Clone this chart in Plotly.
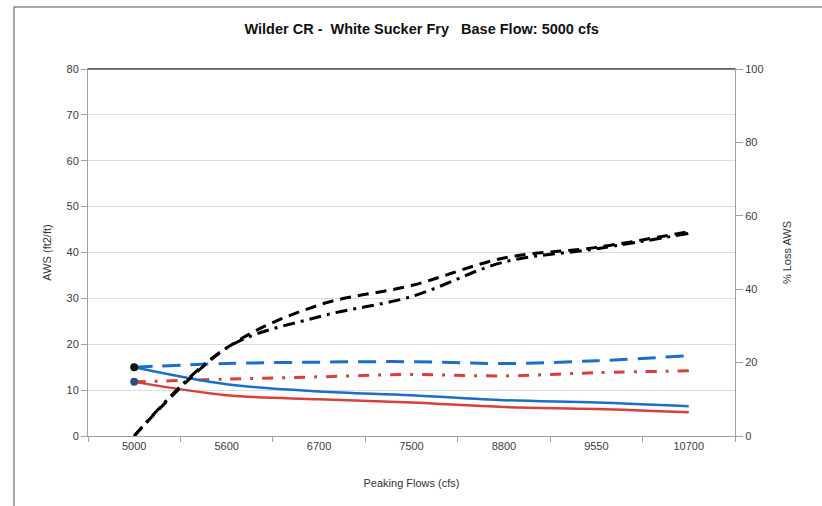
# Wilder CR - White Sucker Fry, base flow 5000 cfs
# AWS (left axis) and % loss of AWS (right axis) against peaking flow

import plotly.graph_objects as go


# peaking flows (category axis)
flows = ['5000', '5600', '6700', '7500', '8800', '9550', '10700']

# AWS (ft2/ft), left axis
aws_blue_solid = [15.0, 11.3, 9.7, 8.9, 7.8, 7.3, 6.5]
aws_red_solid = [11.8, 8.9, 8.0, 7.3, 6.3, 5.9, 5.2]
aws_blue_dash = [15.0, 15.8, 16.1, 16.2, 15.8, 16.4, 17.5]
aws_red_dashdot = [11.8, 12.4, 12.9, 13.4, 13.1, 13.8, 14.2]

# % loss AWS, right axis
loss_dash = [0.0, 24.0, 35.7, 41.0, 48.5, 51.4, 55.7]
loss_dashdot = [0.0, 24.0, 32.5, 38.0, 47.4, 51.0, 55.2]

BLUE = '#1a70c8'
RED = '#d8403b'
TICK = '#3c3c3c'
W, H = 822, 506
L, R, T, B = 88, 735, 69, 436


def px_x(p):
    return (p - L) / (R - L)


def px_y(p):
    return (B - p) / (B - T)


fig = go.Figure()

fig.add_trace(go.Scatter(x=flows, y=aws_blue_dash, mode='lines',
                         line=dict(color=BLUE, width=3, dash='18px,10px', shape='spline')))
fig.add_trace(go.Scatter(x=flows, y=aws_red_dashdot, mode='lines',
                         line=dict(color=RED, width=3, dash='11px,9px,3px,9px', shape='spline')))
fig.add_trace(go.Scatter(x=flows, y=aws_blue_solid, mode='lines',
                         line=dict(color=BLUE, width=2.5, shape='spline')))
fig.add_trace(go.Scatter(x=flows, y=aws_red_solid, mode='lines',
                         line=dict(color=RED, width=2.5, shape='spline')))

# base-flow points
fig.add_trace(go.Scatter(x=flows[:1], y=aws_blue_solid[:1], mode='markers',
                         marker=dict(color='#111111', size=8)))
fig.add_trace(go.Scatter(x=flows[:1], y=aws_red_solid[:1], mode='markers',
                         marker=dict(color='#2c4f86', size=8)))

fig.add_trace(go.Scatter(x=flows, y=loss_dash, mode='lines', yaxis='y2',
                         line=dict(color='black', width=3, dash='11px,7px', shape='spline')))
fig.add_trace(go.Scatter(x=flows, y=loss_dashdot, mode='lines', yaxis='y2',
                         line=dict(color='black', width=3, dash='12px,6px,3px,6px', shape='spline')))

fig.update_layout(
    width=W, height=H,
    margin=dict(l=L, r=W - R, t=T, b=H - B, pad=0),
    paper_bgcolor='white',
    plot_bgcolor='white',
    showlegend=False,
    font=dict(family='Liberation Sans, Arial', size=11, color=TICK),
    title=dict(text='<b>Wilder CR -  White Sucker Fry   Base Flow: 5000 cfs</b>',
               x=0.513, xanchor='center', y=0.943, yanchor='middle',
               font=dict(size=14.5, color='#111111')),
    xaxis=dict(type='category', range=[-0.5, 6.5], showgrid=False,
               showline=True, linecolor='#a0a0a0', linewidth=1, mirror=True,
               ticks='outside', tickson='boundaries', ticklen=5, tickcolor='#a0a0a0',
               tickfont=dict(size=11, color=TICK),
               title=dict(text='Peaking Flows (cfs)', font=dict(size=11, color='#333333'),
                          standoff=28)),
    yaxis=dict(range=[0, 80], dtick=10, showgrid=True, gridcolor='#dcdcdc', gridwidth=1,
               showline=True, linecolor='#a0a0a0', linewidth=1, zeroline=False,
               ticks='outside', ticklen=6, tickcolor='#a0a0a0',
               tickfont=dict(size=11, color=TICK),
               title=dict(text='AWS (ft2/ft)', font=dict(size=11, color='#333333'),
                          standoff=12)),
    yaxis2=dict(range=[0, 100], dtick=20, overlaying='y', side='right', showgrid=False,
                showline=True, linecolor='#a0a0a0', linewidth=1, zeroline=False,
                ticks='outside', ticklen=7, tickcolor='#a0a0a0',
                tickfont=dict(size=11, color=TICK),
                title=dict(text='% Loss AWS', font=dict(size=11, color='#333333'),
                           standoff=20)),
)

# dark top edge of the plot area
fig.add_shape(type='line', xref='paper', yref='paper', x0=0, x1=1, y0=1, y1=1,
              line=dict(color='#555555', width=1.5))

# outer chart frame
fig.add_shape(type='rect', xref='paper', yref='paper',
              x0=px_x(14), x1=px_x(840), y0=px_y(7), y1=px_y(520),
              line=dict(color='#8a8a8a', width=1.5), layer='below')

# drop the default page margin so the figure sits at the window's corner
fig.write_html('out.html', config={'displayModeBar': False},
               post_script="document.body.style.margin='0';")
